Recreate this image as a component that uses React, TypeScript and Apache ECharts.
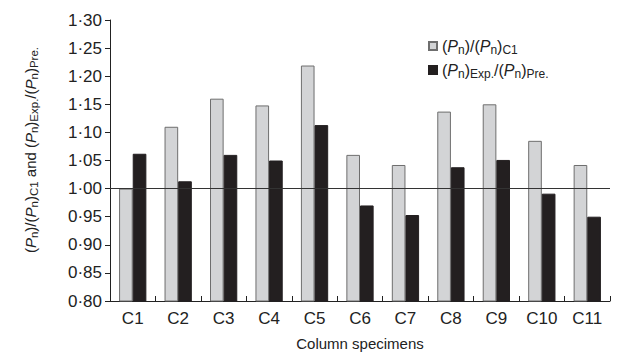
import React, { useEffect, useRef } from "react";
import * as echarts from "echarts";

const categories = ["C1", "C2", "C3", "C4", "C5", "C6", "C7", "C8", "C9", "C10", "C11"];
const ratioC1 = [1.0, 1.11, 1.16, 1.148, 1.219, 1.06, 1.042, 1.137, 1.15, 1.085, 1.042];
const ratioExpPre = [1.062, 1.013, 1.06, 1.05, 1.113, 0.97, 0.953, 1.038, 1.051, 0.991, 0.95];
const seriesNames = ["(Pn)/(Pn)C1", "(Pn)Exp./(Pn)Pre."];
const legendRich = [
  "{m|(}{i|P}{s|n}{m|)/(}{i|P}{s|n}{m|)}{s|C1}",
  "{m|(}{i|P}{s|n}{m|)}{s|Exp.}{m|/(}{i|P}{s|n}{m|)}{s|Pre.}",
];
const yName =
  "{m|(}{i|P}{s|n}{m|)/(}{i|P}{s|n}{m|)}{s|C1}{m| and (}{i|P}{s|n}{m|)}{s|Exp.}{m|/(}{i|P}{s|n}{m|)}{s|Pre.}";
const refValue = 1.0;

const FONT = "'Liberation Sans', Arial, sans-serif";

const richStyles = (main: number, sub: number, lh: number) => ({
  m: { fontSize: main, fontFamily: FONT, fill: "#222", color: "#222", lineHeight: lh },
  i: { fontSize: main, fontFamily: FONT, fill: "#222", color: "#222", fontStyle: "italic", lineHeight: lh },
  s: {
    fontSize: sub,
    fontFamily: FONT,
    fill: "#222",
    color: "#222",
    lineHeight: sub,
    verticalAlign: "bottom",
    padding: [5, 0, 0, 0],
  },
});

export default function App() {
  const ref = useRef<HTMLDivElement>(null);
  useEffect(() => {
    if (!ref.current) return;
    const chart = echarts.init(ref.current, null, { renderer: "svg" });
    chart.setOption({
      animation: false,
      backgroundColor: "#ffffff",
      grid: { left: 110, right: 8, top: 20, bottom: 54, containLabel: false },
      legend: {
        orient: "vertical",
        left: 423,
        top: 33,
        icon: "rect",
        itemWidth: 8,
        itemHeight: 8,
        itemGap: 6,
        data: seriesNames,
        formatter: (name: string) => legendRich[seriesNames.indexOf(name)],
        textStyle: { rich: richStyles(16, 12, 20) },
      },
      graphic: [
        {
          type: "text",
          x: 30,
          y: 150,
          rotation: Math.PI / 2,
          style: {
            text: yName,
            align: "center",
            verticalAlign: "middle",
            rich: richStyles(15, 11.5, 20),
          },
        },
      ],
      xAxis: {
        type: "category",
        data: categories,
        name: "Column specimens",
        nameLocation: "middle",
        nameGap: 35,
        nameTextStyle: { fontFamily: FONT, fontSize: 15, color: "#222" },
        axisLine: { lineStyle: { color: "#222", width: 1 } },
        axisTick: { show: true, inside: true, length: 5, lineStyle: { color: "#222" } },
        axisLabel: { fontFamily: FONT, fontSize: 17, color: "#222", margin: 9 },
      },
      yAxis: {
        type: "value",
        min: 0.8,
        max: 1.3,
        interval: 0.05,
        axisLine: { show: true, lineStyle: { color: "#222", width: 1 } },
        axisTick: { show: true, inside: false, length: 5, lineStyle: { color: "#222" } },
        splitLine: { show: false },
        axisLabel: {
          fontFamily: FONT,
          fontSize: 17,
          color: "#222",
          margin: 8,
          formatter: (v: number) => v.toFixed(2).replace(".", "·"),
        },
      },
      series: [
        {
          name: seriesNames[0],
          type: "bar",
          data: ratioC1,
          barGap: "0%",
          barCategoryGap: "40%",
          itemStyle: { color: "#d3d4d6", borderColor: "#6e6e6e", borderWidth: 1 },
        },
        {
          name: seriesNames[1],
          type: "bar",
          data: ratioExpPre,
          barGap: "0%",
          barCategoryGap: "40%",
          itemStyle: { color: "#231f20", borderColor: "#231f20", borderWidth: 1 },
          markLine: {
            silent: true,
            symbol: "none",
            label: { show: false },
            lineStyle: { color: "#333", type: "solid", width: 1 },
            data: [{ yAxis: refValue }],
          },
        },
      ],
    });
    return () => chart.dispose();
  }, []);
  return (
    <div
      ref={ref}
      style={{ position: "fixed", left: 0, top: 0, width: 618, height: 356 }}
    />
  );
}
